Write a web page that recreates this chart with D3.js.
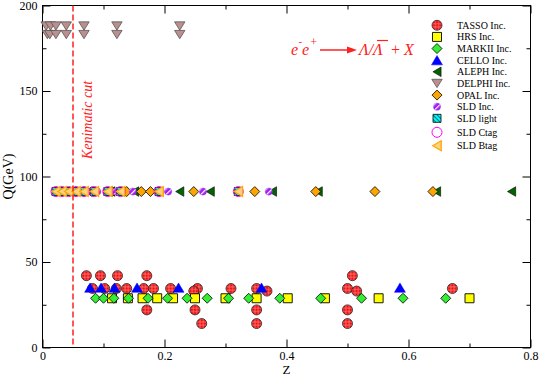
<!DOCTYPE html>
<html>
<head>
<meta charset="utf-8">
<script src="https://cdnjs.cloudflare.com/ajax/libs/d3/7.8.5/d3.min.js"></script>
<style>
body { margin: 0; background: #fff; }
svg { display: block; }
text { font-family: "Liberation Serif", "Times New Roman", serif; }
</style>
</head>
<body>
<svg id="main-svg" width="540" height="377"></svg>
<script>
// ---- data: [z, Q] pairs ----
const tasso = [
	[0.072, 42], [0.095, 42], [0.123, 42], [0.171, 42], [0.508, 42],
	[0.082, 34.5], [0.102, 34.5], [0.121, 34.5], [0.138, 34.5], [0.166, 34.5], [0.182, 34.5],
	[0.210, 34.5], [0.254, 34.5], [0.309, 34.5], [0.351, 34.5], [0.500, 34.5], [0.672, 34.5],
	[0.248, 33], [0.368, 33], [0.515, 33],
	[0.171, 22], [0.250, 22], [0.351, 22], [0.500, 22],
	[0.261, 14], [0.351, 14], [0.500, 14]
];
const hrs = [
	[0.114, 28.8], [0.140, 28.8], [0.164, 28.8], [0.188, 28.8], [0.214, 28.8], [0.250, 28.8],
	[0.300, 28.8], [0.351, 28.8], [0.402, 28.8], [0.463, 28.8], [0.551, 28.8], [0.700, 28.8]
];
const markii = [
	[0.087, 28.8], [0.100, 28.8], [0.117, 28.8], [0.141, 28.8], [0.173, 28.8], [0.205, 28.8],
	[0.237, 28.8], [0.270, 28.8], [0.305, 28.8], [0.338, 28.8], [0.389, 28.8], [0.456, 28.8],
	[0.523, 28.8], [0.591, 28.8], [0.661, 28.8]
];
const cello = [
	[0.078, 35], [0.096, 35], [0.118, 35], [0.155, 35], [0.223, 35], [0.359, 35], [0.586, 35]
];
const aleph = [
	[0.112, 91.2], [0.128, 91.2], [0.151, 91.2], [0.225, 91.2], [0.275, 91.2],
	[0.377, 91.2], [0.452, 91.2], [0.646, 91.2], [0.769, 91.2]
];
const delphi = [
	[0.006, 188], [0.013, 188], [0.022, 188], [0.039, 188], [0.068, 188], [0.122, 188], [0.225, 188],
	[0.008, 183], [0.012, 183], [0.022, 183], [0.039, 183], [0.068, 183], [0.122, 183], [0.225, 183]
];
const opal = [
	[0.081, 91.2], [0.114, 91.2], [0.138, 91.2], [0.162, 91.2], [0.177, 91.2],
	[0.248, 91.2], [0.348, 91.2], [0.448, 91.2], [0.545, 91.2], [0.640, 91.2]
];
const sldInc = [
	[0.025, 91.2], [0.038, 91.2], [0.050, 91.2], [0.062, 91.2], [0.075, 91.2], [0.090, 91.2],
	[0.105, 91.2], [0.121, 91.2], [0.148, 91.2], [0.206, 91.2], [0.263, 91.2], [0.371, 91.2]
];
const sldLight = [
	[0.022, 91.2], [0.032, 91.2], [0.043, 91.2], [0.055, 91.2], [0.068, 91.2],
	[0.085, 91.2], [0.107, 91.2], [0.128, 91.2], [0.191, 91.2], [0.321, 91.2]
];
const sldCtag = [
	[0.022, 91.2], [0.032, 91.2], [0.043, 91.2], [0.055, 91.2], [0.068, 91.2],
	[0.085, 91.2], [0.107, 91.2], [0.128, 91.2], [0.191, 91.2], [0.321, 91.2]
];
const sldBtag = [
	[0.022, 91.2], [0.032, 91.2], [0.043, 91.2], [0.055, 91.2], [0.068, 91.2],
	[0.085, 91.2], [0.107, 91.2], [0.128, 91.2], [0.191, 91.2], [0.321, 91.2]
];
const xTicks = [0, 0.2, 0.4, 0.6, 0.8];
const xMinor = [0.1, 0.3, 0.5, 0.7];
const yTicks = [0, 50, 100, 150, 200];
const yMinor = [25, 75, 125, 175];
const zCut = 0.05;

// ---- setup ----
const svg = d3.select('#main-svg');
const x = d3.scaleLinear().domain([0, 0.8]).range([42.5, 530.5]);
const y = d3.scaleLinear().domain([0, 200]).range([347.5, 5.5]);

const defs = svg.append('defs');

let pt = defs.append('pattern').attr('id', 'hatchTasso')
	.attr('patternUnits', 'userSpaceOnUse').attr('width', 3.2).attr('height', 3.2);
pt.append('rect').attr('width', 3.2).attr('height', 3.2).attr('fill', '#f01010');
pt.append('path').attr('d', 'M1.6,0V3.2M0,1.6H3.2')
	.attr('stroke', '#ff9090').attr('stroke-width', 0.6);

pt = defs.append('pattern').attr('id', 'hatchSldInc')
	.attr('patternUnits', 'userSpaceOnUse').attr('width', 4).attr('height', 4)
	.attr('patternTransform', 'rotate(-45)');
pt.append('rect').attr('width', 4).attr('height', 4).attr('fill', '#a020f0');
pt.append('rect').attr('width', 4).attr('height', 1.2).attr('fill', '#ffffff');

pt = defs.append('pattern').attr('id', 'hatchSldLight')
	.attr('patternUnits', 'userSpaceOnUse').attr('width', 3).attr('height', 3)
	.attr('patternTransform', 'rotate(45)');
pt.append('rect').attr('width', 3).attr('height', 3).attr('fill', '#00ffff');
pt.append('rect').attr('width', 3).attr('height', 0.9).attr('fill', '#106070');

// custom symbol types; "size" is taken as the half-extent in px
const shapes = {
	circle: { draw(c, r) { c.moveTo(r, 0); c.arc(0, 0, r, 0, 2 * Math.PI); } },
	square: { draw(c, r) { c.rect(-r, -r, 2 * r, 2 * r); } },
	diamond: { draw(c, r) { c.moveTo(0, -r); c.lineTo(r, 0); c.lineTo(0, r); c.lineTo(-r, 0); c.closePath(); } },
	triUp: { draw(c, r) { const h = r * 0.85; c.moveTo(0, -h); c.lineTo(r, h); c.lineTo(-r, h); c.closePath(); } },
	triDown: { draw(c, r) { const h = r * 0.8; c.moveTo(0, h); c.lineTo(r, -h); c.lineTo(-r, -h); c.closePath(); } },
	triLeft: { draw(c, r) { const h = r * 0.85; c.moveTo(-h, 0); c.lineTo(h, -r); c.lineTo(h, r); c.closePath(); } }
};

const series = [
	{ name: 'TASSO Inc.', data: tasso, shape: 'circle', r: 5, fill: 'url(#hatchTasso)', stroke: '#222', sw: 0.8 },
	{ name: 'HRS Inc.', data: hrs, shape: 'square', r: 4.5, fill: '#ffff00', stroke: '#000', sw: 0.9 },
	{ name: 'MARKII Inc.', data: markii, shape: 'diamond', r: 5, fill: '#33ee33', stroke: '#000', sw: 0.8 },
	{ name: 'CELLO Inc.', data: cello, shape: 'triUp', r: 5.5, fill: '#0000ff', stroke: '#0000ff', sw: 0.5 },
	{ name: 'ALEPH Inc.', data: aleph, shape: 'triLeft', r: 4.8, fill: '#006400', stroke: '#000', sw: 0.6 },
	{ name: 'DELPHI Inc.', data: delphi, shape: 'triDown', r: 5.2, fill: '#bc8f8f', stroke: '#555', sw: 0.8 },
	{ name: 'OPAL Inc.', data: opal, shape: 'diamond', r: 5, fill: '#ffa500', stroke: '#000', sw: 0.8 },
	{ name: 'SLD Inc.', data: sldInc, shape: 'circle', r: 3.6, fill: 'url(#hatchSldInc)', stroke: '#a020f0', sw: 0.4 },
	{ name: 'SLD light', data: sldLight, shape: 'square', r: 4, fill: 'url(#hatchSldLight)', stroke: '#000', sw: 0.8 },
	{ name: 'SLD Ctag', data: sldCtag, shape: 'circle', r: 5, fill: 'none', stroke: '#ff00ff', sw: 1 },
	{ name: 'SLD Btag', data: sldBtag, shape: 'triLeft', r: 5, fill: '#ffd27f', stroke: '#ffa500', sw: 1.2 }
];

const sym = d3.symbol();

// ---- frame and axes ----
const axisG = svg.append('g');

function addAxis(axis, tr, labels) {
	const g = axisG.append('g').attr('transform', tr).call(axis);
	g.select('.domain').remove();
	g.selectAll('line').attr('stroke', '#000');
	if (!labels) g.selectAll('text').remove();
	else g.selectAll('text').attr('fill', '#000').attr('font-family', '"Liberation Serif", serif').attr('font-size', 12);
	return g;
}

addAxis(d3.axisBottom(x).tickValues(xTicks).tickSizeInner(-8).tickSizeOuter(0).tickPadding(3.5).tickFormat(d3.format('')), 'translate(0,347.5)', true);
addAxis(d3.axisBottom(x).tickValues(xMinor).tickSizeInner(-4).tickSizeOuter(0), 'translate(0,347.5)', false);
addAxis(d3.axisTop(x).tickValues(xTicks).tickSizeInner(-8).tickSizeOuter(0), 'translate(0,5.5)', false);
addAxis(d3.axisTop(x).tickValues(xMinor).tickSizeInner(-4).tickSizeOuter(0), 'translate(0,5.5)', false);
addAxis(d3.axisLeft(y).tickValues(yTicks).tickSizeInner(-8).tickSizeOuter(0).tickPadding(5), 'translate(42.5,0)', true);
addAxis(d3.axisLeft(y).tickValues(yMinor).tickSizeInner(-4).tickSizeOuter(0), 'translate(42.5,0)', false);
addAxis(d3.axisRight(y).tickValues(yTicks).tickSizeInner(-8).tickSizeOuter(0), 'translate(530.5,0)', false);
addAxis(d3.axisRight(y).tickValues(yMinor).tickSizeInner(-4).tickSizeOuter(0), 'translate(530.5,0)', false);

svg.append('rect')
	.attr('x', x(0)).attr('y', y(200))
	.attr('width', x(0.8) - x(0)).attr('height', y(0) - y(200))
	.attr('fill', 'none').attr('stroke', '#000').attr('stroke-width', 1);

svg.append('text').attr('x', (x(0) + x(0.8)) / 2).attr('y', 374)
	.attr('text-anchor', 'middle').attr('font-size', 13).text('Z');
svg.append('text').attr('transform', 'translate(13,' + y(100) + ') rotate(-90)')
	.attr('text-anchor', 'middle').attr('font-size', 14).text('Q(GeV)');

// ---- markers ----
const markG = svg.append('g');
series.forEach(s => {
	markG.append('g')
		.selectAll('path')
		.data(s.data)
		.enter().append('path')
		.attr('d', sym.type(shapes[s.shape]).size(s.r)())
		.attr('transform', d => 'translate(' + x(d[0]) + ',' + y(d[1]) + ')')
		.attr('fill', s.fill)
		.attr('stroke', s.stroke)
		.attr('stroke-width', s.sw);
});

// ---- kinematic cut ----
svg.append('line')
	.attr('x1', x(zCut)).attr('x2', x(zCut))
	.attr('y1', y(200)).attr('y2', y(0))
	.attr('stroke', '#ff2020').attr('stroke-width', 1.5)
	.attr('stroke-dasharray', '6,3');
svg.append('text')
	.attr('transform', 'translate(92,120) rotate(-90)')
	.attr('text-anchor', 'middle').attr('font-size', 14)
	.attr('font-style', 'italic').attr('fill', '#ff2020')
	.text('Kenimatic cut');

// ---- reaction label ----
const red = '#ff2020';
const ann = svg.append('g').attr('fill', red).attr('font-style', 'italic');
ann.append('text').attr('x', 291).attr('y', 55).attr('font-size', 16).text('e');
ann.append('text').attr('x', 298.5).attr('y', 45).attr('font-size', 11).text('-');
ann.append('text').attr('x', 302).attr('y', 55).attr('font-size', 16).text('e');
ann.append('text').attr('x', 309.5).attr('y', 46).attr('font-size', 12).text('+');
ann.append('line').attr('x1', 320).attr('x2', 349).attr('y1', 50).attr('y2', 50)
	.attr('stroke', red).attr('stroke-width', 1.5);
ann.append('path').attr('d', 'M347,46.5L357,50L347,53.5Z').attr('fill', red);
ann.append('text').attr('x', 359).attr('y', 55).attr('font-size', 16).text('Λ/Λ');
ann.append('line').attr('x1', 377).attr('x2', 388).attr('y1', 40.5).attr('y2', 40.5)
	.attr('stroke', red).attr('stroke-width', 1.2);
ann.append('text').attr('x', 391).attr('y', 55).attr('font-size', 16).attr('font-style', 'normal').text('+');
ann.append('text').attr('x', 404).attr('y', 55).attr('font-size', 16).text('X');

// ---- legend ----
const legY = i => i < 9 ? 25.3 + i * 11.63 : 132.3 + (i - 9) * 13.4;
const leg = svg.append('g');
series.forEach((s, i) => {
	leg.append('path')
		.attr('d', sym.type(shapes[s.shape]).size(s.r)())
		.attr('transform', 'translate(437,' + legY(i) + ')')
		.attr('fill', s.fill)
		.attr('stroke', s.stroke)
		.attr('stroke-width', s.sw);
	leg.append('text')
		.attr('x', 457).attr('y', legY(i)).attr('dy', '0.35em')
		.attr('font-size', 10).text(s.name);
});
</script>
</body>
</html>
